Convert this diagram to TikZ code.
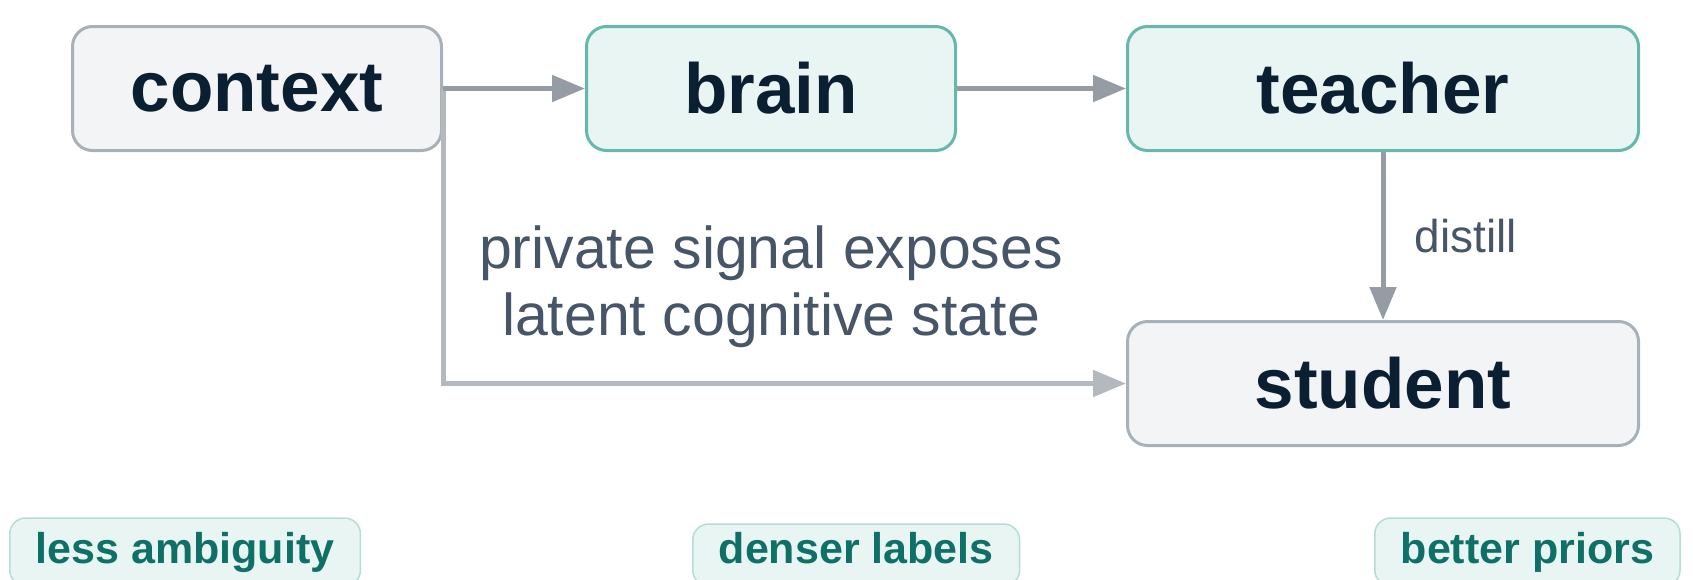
\documentclass[tikz,border=0pt]{standalone}
\usepackage{fontspec}
\setmainfont{Liberation Sans}
\usetikzlibrary{arrows.meta, positioning}

\definecolor{ink}{HTML}{0B1F33}
\definecolor{slate}{HTML}{475569}
\definecolor{greyfill}{HTML}{F3F4F6}
\definecolor{greyline}{HTML}{A8B0B8}
\definecolor{tealfill}{HTML}{E8F5F2}
\definecolor{tealline}{HTML}{66B8AD}
\definecolor{arrowgrey}{HTML}{959CA4}
\definecolor{pathgrey}{HTML}{B3B9BF}
\definecolor{pillline}{HTML}{B5DDD6}
\definecolor{pilltext}{HTML}{0E7066}

\tikzset{
  box/.style  = {draw, rectangle, rounded corners=20pt, line width=3pt, minimum width=369pt, minimum height=124pt, text=ink, font=\fontsize{71}{80}\selectfont\bfseries},
  greybox/.style = {box, draw=greyline, fill=greyfill},
  tealbox/.style = {box, draw=tealline, fill=tealfill},
  widebox/.style = {minimum width=511pt},
  pill/.style = {draw=pillline, fill=tealfill, line width=1.5pt, rounded corners=16pt, inner xsep=26pt, inner ysep=14pt, text height=31pt, text depth=9pt, anchor=base west, text=pilltext, font=\fontsize{43}{50}\selectfont\bfseries},
  myarrow/.style = {-{Triangle[length=33pt, width=26pt]}, line width=5pt, draw=arrowgrey},
  sidearrow/.style = {myarrow, draw=pathgrey},
}

\begin{document}
\begin{tikzpicture}[x=1pt, y=1pt, node distance=142pt]
    \useasboundingbox (0,0) rectangle (1693,-579);

    \node (n00) [greybox] at (257,-88.5) {context};
    \node (n10) [tealbox, right=of n00] {brain};
    \node (n20) [tealbox, widebox, right=169pt of n10] {teacher};
    \node (n30) [greybox, widebox, below=168pt of n20] {student};

    \node (note) [below=74pt of n10, inner sep=0pt, align=center, text=slate,
                  font=\fontsize{59}{67}\selectfont] {private signal exposes\\latent cognitive state};

    \node (p0) [pill] at (9,-563) {less ambiguity};
    \node (p1) [pill, text height=25pt] at (692,-563) {denser labels};
    \node (p2) [pill] at (1374,-563) {better priors};

    \draw [sidearrow] (n00.east) |- (n30.west);
    \draw [myarrow] (n00) -- (n10);
    \draw [myarrow] (n10) -- (n20);
    \draw [myarrow] (n20) -- node[right=25pt, inner sep=4pt, text=slate, font=\fontsize{46}{52}\selectfont]{distill} (n30);
\end{tikzpicture}
\end{document}
